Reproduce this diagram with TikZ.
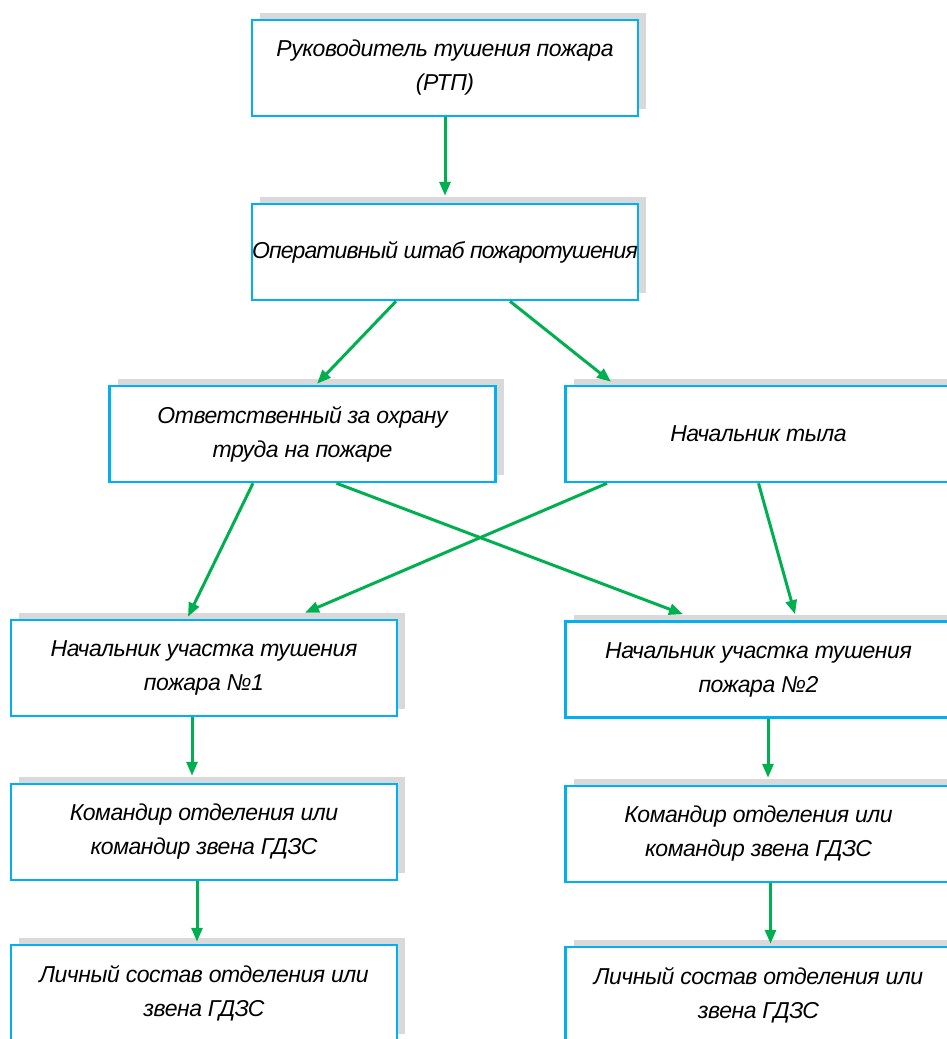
\documentclass[tikz,border=0pt]{standalone}
\usepackage{fontspec}
\setmainfont{Liberation Sans}
\newfontfamily\diagfont{Liberation Sans}[LetterSpace=-2]
\usetikzlibrary{arrows.meta,shadows}
\definecolor{boxblue}{HTML}{00B0F0}
\definecolor{arrgreen}{HTML}{00B050}
\definecolor{shadowgray}{HTML}{D9D9D9}
\begin{document}
\begin{tikzpicture}[x=1pt,y=1pt,
  stepbox/.style={draw=boxblue,line width=2.5pt,fill=white,
    minimum width=386pt,minimum height=96pt,inner sep=0pt,align=center,
    font=\diagfont\fontsize{23}{34}\selectfont\itshape,
    drop shadow={shadow xshift=8pt,shadow yshift=7pt,fill=shadowgray,opacity=1}},
  link/.style={draw=arrgreen,line width=3pt,-{Triangle[length=14pt,width=11pt]}}]
\useasboundingbox (0,0) rectangle (947,-1039);
\node[stepbox] (b1) at (445,-68) {Руководитель тушения пожара\\(РТП)};
\node[stepbox] (b2) at (445,-252) {\addfontfeature{LetterSpace=-4}Оперативный штаб пожаротушения};
\node[stepbox] (b3) at (302.5,-434) {Ответственный за охрану\\труда на пожаре};
\node[stepbox] (b4) at (758.5,-434) {Начальник тыла};
\node[stepbox] (b5) at (204,-668) {Начальник участка тушения\\пожара №1};
\node[stepbox] (b6) at (758.5,-669.5) {Начальник участка тушения\\пожара №2};
\node[stepbox] (b7) at (204,-832) {Командир отделения или\\командир звена ГДЗС};
\node[stepbox] (b8) at (758.5,-834) {Командир отделения или\\командир звена ГДЗС};
\node[stepbox] (b9) at (204,-993) {Личный состав отделения или\\звена ГДЗС};
\node[stepbox] (b10) at (758.5,-995) {Личный состав отделения или\\звена ГДЗС};
\draw[link] (b1.south) -- ([yshift=7pt]b2.north);
\draw[link] ([xshift=-49pt]b2.south) -- ([xshift=14.5pt,yshift=1pt]b3.north);
\draw[link] ([xshift=65pt]b2.south) -- ([xshift=-147.5pt,yshift=3pt]b4.north);
\draw[link] ([xshift=-49.5pt]b3.south) -- ([xshift=-16pt,yshift=2pt]b5.north);
\draw[link] ([xshift=34pt]b3.south) -- ([xshift=-75.5pt,yshift=6pt]b6.north);
\draw[link] ([xshift=-151.5pt]b4.south) -- ([xshift=101pt,yshift=6pt]b5.north);
\draw[link] ([xshift=0pt]b4.south) -- ([xshift=36.5pt,yshift=6pt]b6.north);
\draw[link] ([xshift=-12pt]b5.south) -- ([xshift=-12pt,yshift=7pt]b7.north);
\draw[link] ([xshift=9.5pt]b6.south) -- ([xshift=9.5pt,yshift=7pt]b8.north);
\draw[link] ([xshift=-7pt]b7.south) -- ([xshift=-7pt,yshift=2pt]b9.north);
\draw[link] ([xshift=12pt]b8.south) -- ([xshift=12pt,yshift=2pt]b10.north);
\end{tikzpicture}
\end{document}
